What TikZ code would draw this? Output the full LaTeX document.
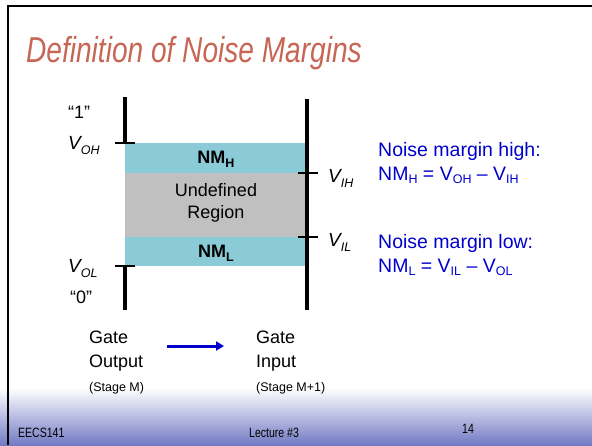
\documentclass[tikz,border=0pt]{standalone}
\usepackage{fontspec}
\setmainfont{Liberation Sans}
\newfontfamily\narrowfont[FakeStretch=0.78]{Liberation Sans}
\usetikzlibrary{arrows.meta}
\definecolor{titlered}{RGB}{199,102,84}
\definecolor{margincyan}{RGB}{139,203,216}
\definecolor{undefgray}{RGB}{192,192,192}
\definecolor{noteblue}{RGB}{0,0,204}
\definecolor{footblue}{RGB}{114,122,196}
\newcommand\lowsub[2][3pt]{\raisebox{-#1}{\fontsize{12.5}{12.5}\selectfont #2}}

\begin{document}
\begin{tikzpicture}[x=1pt, y=-1pt,
    txt/.style={font=\fontsize{18}{20}\selectfont, inner sep=0pt, anchor=base west},
    note/.style={font=\fontsize{19.5}{22}\selectfont, text=noteblue, inner sep=0pt, anchor=base west},
    small/.style={font=\fontsize{12.5}{14}\selectfont, inner sep=0pt, anchor=base west},
    foot/.style={font=\narrowfont\fontsize{13.5}{15}\selectfont, inner sep=0pt, anchor=base west},
    bar/.style={line width=4pt},
    tick/.style={line width=2.5pt}]
    \useasboundingbox (0,0) rectangle (592,445);

    % Slide background and footer band
    \fill[white] (0,0) rectangle (592,445);
    \shade[top color=white, bottom color=footblue] (0,388) rectangle (592,445);
    \draw[line width=2.5pt] (8,445) -- (8,6) -- (592,6);

    % Title
    \node[font=\narrowfont\itshape\fontsize{36}{40}\selectfont, text=titlered, inner sep=0pt, anchor=base west] (title) at (26,62) {Definition of Noise Margins};

    % Margin bands
    \fill[margincyan] (125,143) rectangle (307,173);
    \fill[undefgray] (125,173) rectangle (307,237);
    \fill[margincyan] (125,237) rectangle (307,266);
    \node[font=\fontsize{18}{20}\selectfont\bfseries, inner sep=0pt, anchor=base] (nmh) at (216,163) {NM\lowsub[4pt]{H}};
    \node[font=\fontsize{18}{22}\selectfont, align=center, inner sep=0pt] (undef) at (216,203) {Undefined\\Region};
    \node[font=\fontsize{18}{20}\selectfont\bfseries, inner sep=0pt, anchor=base] (nml) at (216,257) {NM\lowsub[4pt]{L}};

    % Output and input levels
    \draw[bar] (125,97) -- (125,143);
    \draw[bar] (125,266) -- (125,310);
    \draw[bar] (307,99) -- (307,310);
    \foreach \x/\y in {125/143, 125/266, 307.5/173, 307.5/237}
        \draw[tick] (\x-10,\y) -- (\x+10,\y);

    % Level labels
    \node[txt] (one) at (68,118) {“1”};
    \node[txt, font=\fontsize{19}{20}\selectfont\itshape] (voh) at (68,149) {V\lowsub[5pt]{OH}};
    \node[txt, font=\fontsize{19}{20}\selectfont\itshape] (vol) at (68,272) {V\lowsub[5pt]{OL}};
    \node[txt] (zero) at (70,303) {“0”};
    \node[txt, font=\fontsize{19}{20}\selectfont\itshape] (vih) at (328,182) {V\lowsub[5pt]{IH}};
    \node[txt, font=\fontsize{19}{20}\selectfont\itshape] (vil) at (328,246) {V\lowsub[5pt]{IL}};

    % Definitions
    \node[note] (hightitle) at (378,156) {Noise margin high:};
    \node[note] (higheq) at (378,180) {NM\lowsub{H} = V\lowsub{OH} – V\lowsub{IH}};
    \node[note] (lowtitle) at (378,248) {Noise margin low:};
    \node[note] (loweq) at (378,272) {NM\lowsub{L} = V\lowsub{IL} – V\lowsub{OL}};

    % Gate output to gate input
    \node[txt] (outgate) at (89,343) {Gate};
    \node[txt] (outname) at (89,367) {Output};
    \node[small] (outstage) at (89,391) {(Stage M)};
    \node[txt] (ingate) at (256,343) {Gate};
    \node[txt] (inname) at (256,367) {Input};
    \node[small] (instage) at (256,391) {(Stage M+1)};
    \coordinate (arrowfrom) at (167,346);
    \coordinate (arrowto) at (224,346);
    \draw[noteblue, line width=3pt, -{Triangle[length=8pt, width=9pt]}] (arrowfrom) -- (arrowto);

    % Footer
    \node[foot] (course) at (18,437) {EECS141};
    \node[foot] (lecture) at (249,437) {Lecture \#3};
    \node[foot] (page) at (462,433) {14};
\end{tikzpicture}
\end{document}
